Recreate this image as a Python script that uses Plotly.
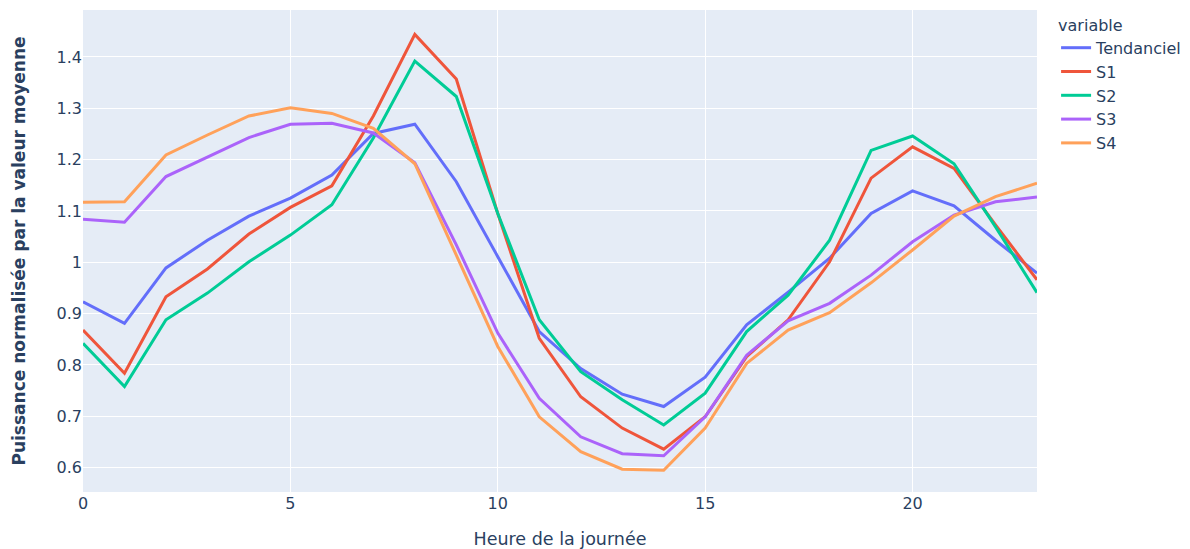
import plotly.graph_objects as go

hours = list(range(24))
tendanciel = [0.923, 0.881, 0.989, 1.043, 1.090, 1.125, 1.170, 1.251, 1.269, 1.157, 1.011, 0.865,
              0.793, 0.743, 0.719, 0.776, 0.878, 0.942, 1.008, 1.095, 1.139, 1.110, 1.043, 0.979]
s1 = [0.868, 0.784, 0.933, 0.987, 1.055, 1.107, 1.149, 1.285, 1.444, 1.357, 1.095, 0.852,
      0.738, 0.677, 0.636, 0.699, 0.816, 0.888, 1.001, 1.164, 1.225, 1.183, 1.073, 0.966]
s2 = [0.842, 0.758, 0.888, 0.940, 1.001, 1.053, 1.112, 1.242, 1.392, 1.323, 1.095, 0.888,
      0.787, 0.732, 0.683, 0.745, 0.865, 0.936, 1.043, 1.218, 1.246, 1.192, 1.069, 0.941]
s3 = [1.084, 1.078, 1.167, 1.205, 1.243, 1.269, 1.271, 1.252, 1.194, 1.034, 0.862, 0.735,
      0.660, 0.627, 0.623, 0.699, 0.819, 0.886, 0.920, 0.975, 1.040, 1.092, 1.118, 1.127]
s4 = [1.117, 1.118, 1.209, 1.248, 1.285, 1.301, 1.290, 1.261, 1.192, 1.015, 0.836, 0.699,
      0.631, 0.597, 0.595, 0.677, 0.803, 0.868, 0.902, 0.960, 1.024, 1.090, 1.128, 1.154]

series_names = ["Tendanciel", "S1", "S2", "S3", "S4"]
series_values = [tendanciel, s1, s2, s3, s4]
colors = ["#636efa", "#EF553B", "#00cc96", "#ab63fa", "#FFA15A"]

fig = go.Figure()
for name, vals, c in zip(series_names, series_values, colors):
    fig.add_trace(go.Scatter(x=hours, y=vals, mode="lines", name=name,
                             line=dict(color=c, width=3)))

fig.update_layout(
    template="plotly",
    width=1182, height=541,
    margin=dict(l=75, r=153, t=2, b=57, autoexpand=False),
    font=dict(family="Verdana, DejaVu Sans, sans-serif", size=16, color="#2a3f5f"),
    legend=dict(title=dict(text="variable", font=dict(size=16)), font=dict(size=16)),
    xaxis=dict(title=dict(text="Heure de la journée", font=dict(size=17.5), standoff=23),
               range=[0, 23], dtick=5, zeroline=False, tickfont=dict(size=16), automargin=False),
    yaxis=dict(title=dict(text="<b>Puissance normalisée par la valeur moyenne</b>",
                          font=dict(size=17), standoff=26),
               range=[0.5525, 1.4915], dtick=0.1, zeroline=False, tickfont=dict(size=16),
               automargin=False),
)

fig.write_html("out.html")
